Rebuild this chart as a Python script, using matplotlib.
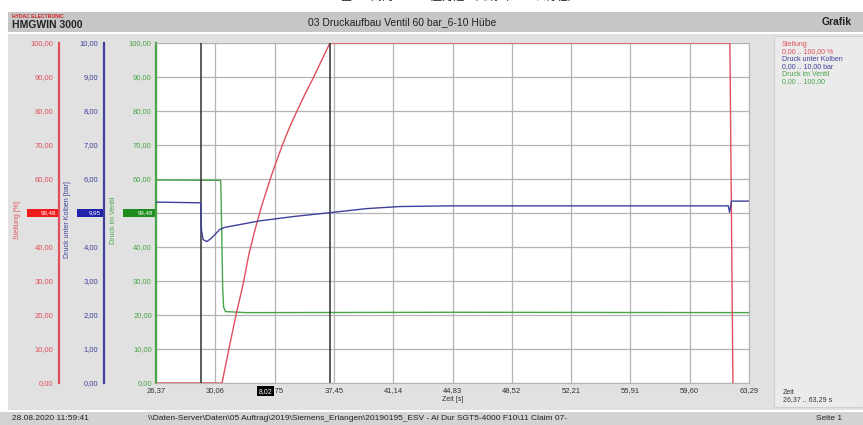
#HMGWIN 3000 recording - Druckaufbau Ventil 60 bar
#three channels on one time axis, each with its own y scale

import matplotlib
matplotlib.use("Agg")
import matplotlib.pyplot as plt
from matplotlib.patches import Rectangle
from matplotlib.ticker import FuncFormatter
import matplotlib.transforms as mtransforms

plt.rcParams['font.family'] = ['Liberation Sans', 'Noto Sans CJK SC', 'DejaVu Sans']

# Stellung [%]
t_stellung = [26.37, 30.48, 30.91, 31.35, 31.79, 32.16, 32.53, 32.91, 33.28, 33.59, 33.97,
              34.28, 34.71, 35.15, 35.65, 36.14, 36.64, 37.20, 62.10, 62.29]
stellung = [0, 0, 10, 20, 29, 38, 45, 51.5, 57, 61.5, 66.5,
            70.5, 75.5, 80, 85, 89.5, 94.5, 100, 100, 0]

# Druck unter Kolben [bar]
t_kolben = [26.37, 29.15, 29.20, 29.30, 29.53, 29.80, 30.10, 30.35, 30.67, 32.85, 35.00,
            37.20, 39.50, 41.56, 44.70, 50.00, 56.00, 62.00, 62.08, 62.20, 63.29]
druck_kolben = [5.32, 5.30, 4.50, 4.22, 4.16, 4.25, 4.40, 4.52, 4.58, 4.77, 4.90,
                5.01, 5.13, 5.19, 5.21, 5.21, 5.21, 5.21, 5.02, 5.35, 5.35]

# Druck im Ventil
t_ventil = [26.37, 30.40, 30.46, 30.52, 30.58, 30.70, 32.00, 45.00, 63.29]
druck_ventil = [59.7, 59.6, 45.0, 28.0, 22.3, 21.0, 20.7, 20.8, 20.7]

x_ticks = [26.37, 30.06, 33.75, 37.45, 41.14, 44.83, 48.52, 52.21, 55.91, 59.60, 63.29]
cursor_1 = 29.18
cursor_2 = 37.20
cursor_text = "8,02"

RED = "#e0505c"
BLUE = "#40409c"
GREEN = "#48a448"

W, H = 863, 425
PT = 72 / 100   # points per pixel


def fx(x):
    return x / W


def fy(y):
    return 1 - y / H


def box(x0, y0, x1, y1, color, z=-5, **kw):
    fig.add_artist(Rectangle((fx(x0), fy(y1)), fx(x1) - fx(x0), fy(y0) - fy(y1),
                             transform=fig.transFigure, facecolor=color, zorder=z, **kw))


def comma(v, pos=None):
    return f"{v:.2f}".replace(".", ",")


fig = plt.figure(figsize=(W / 100, H / 100), dpi=100)
fig.patch.set_facecolor("white")

# frame of the printout
box(8, 12, 863, 32, "#c6c6c6", edgecolor="none")
box(8, 34, 863, 410, "#e1e1e1", edgecolor="none")
box(774, 36, 863, 407, "#ebebeb", edgecolor="#cfcfcf", linewidth=0.8)
box(0, 412, 863, 425, "#d3d3d3", edgecolor="none")

fig.text(fx(460), fy(-2.5), "图 03 阀门 60 bar 压力建立曲线（6-10 次行程）", fontsize=8,
         ha="center", va="center", color="#222222")
fig.text(fx(12), fy(16), "HYDAC ELECTRONIC", fontsize=3.6, color="#cc2222",
         fontweight="bold", va="center")
fig.text(fx(12), fy(25), "HMGWIN 3000", fontsize=7.5, color="#222222",
         fontweight="bold", va="center")
fig.text(fx(308), fy(22), "03 Druckaufbau Ventil 60 bar_6-10 Hübe", fontsize=7.5,
         color="#222222", va="center")
fig.text(fx(822), fy(22), "Grafik", fontsize=7.5, color="#222222",
         fontweight="bold", va="center")

# legend panel on the right
legend_rows = [("Stellung", RED), ("0,00 .. 100,00 %", RED),
               ("Druck unter Kolben", BLUE), ("0,00 .. 10,00 bar", BLUE),
               ("Druck im Ventil", GREEN), ("0,00 .. 100,00", GREEN)]
for i, (txt, col) in enumerate(legend_rows):
    fig.text(fx(782), fy(44 + i * 7.6), txt, fontsize=5, color=col, va="center")
fig.text(fx(783), fy(392), "Zeit", fontsize=5, color="#333333", va="center")
fig.text(fx(783), fy(400), "26,37 .. 63,29 s", fontsize=5, color="#333333", va="center")

# footer
fig.text(fx(12), fy(419), "28.08.2020 11:59:41", fontsize=6, color="#222222", va="center")
fig.text(fx(148), fy(419),
         "\\\\Daten-Server\\Daten\\05 Auftrag\\2019\\Siemens_Erlangen\\20190195_ESV - Al Dur SGT5-4000 F10\\11 Claim 07-",
         fontsize=6, color="#222222", va="center")
fig.text(fx(816), fy(419), "Seite 1", fontsize=6, color="#222222", va="center")

# main plot
ax = fig.add_axes([fx(156), fy(383), fx(749) - fx(156), fy(43) - fy(383)])
ax.set_facecolor("white")
ax.set_xlim(x_ticks[0], x_ticks[-1])
ax.set_ylim(0, 100)
ax.set_yticks(range(0, 101, 10))
ax.set_xticks(x_ticks)
ax.xaxis.set_major_formatter(FuncFormatter(comma))
ax.yaxis.set_major_formatter(FuncFormatter(comma))
ax.grid(True, color="#b4b4b4", linewidth=0.9)
ax.set_axisbelow(True)
ax.tick_params(axis="both", length=0, labelsize=5.5, pad=3)
ax.tick_params(axis="y", labelcolor=GREEN)
ax.tick_params(axis="x", labelcolor="#333333")
for side in ["top", "right", "bottom"]:
    ax.spines[side].set_color("#b4b4b4")
ax.spines["left"].set_color(GREEN)
ax.spines["left"].set_linewidth(1.6)
ax.set_xlabel("Zeit [s]", fontsize=5, color="#333333", labelpad=1)
ax.set_ylabel("Druck im Ventil", fontsize=5, color=GREEN)
ax.yaxis.set_label_coords(fx(117), fy(220), transform=fig.transFigure)

ax_red = ax.twinx()
ax_blue = ax.twinx()
for twin, col, offset, top in [(ax_red, RED, 97, 100), (ax_blue, BLUE, 52, 10)]:
    twin.set_ylim(0, top)
    twin.set_yticks([top * k / 10 for k in range(11)])
    twin.yaxis.set_major_formatter(FuncFormatter(comma))
    twin.yaxis.set_ticks_position("left")
    twin.yaxis.set_label_position("left")
    for side in ["top", "right", "bottom"]:
        twin.spines[side].set_visible(False)
    twin.spines["left"].set_position(("outward", offset * PT))
    twin.spines["left"].set_color(col)
    twin.spines["left"].set_linewidth(1.6)
    twin.tick_params(axis="y", length=0, labelsize=5.5, pad=4, labelcolor=col)
ax_red.set_ylabel("Stellung [%]", fontsize=5, color=RED)
ax_red.yaxis.set_label_coords(fx(21), fy(220), transform=fig.transFigure)
ax_blue.set_ylabel("Druck unter Kolben [bar]", fontsize=5, color=BLUE)
ax_blue.yaxis.set_label_coords(fx(71), fy(220), transform=fig.transFigure)

ax.plot(t_ventil, druck_ventil, color=GREEN, linewidth=1)
ax_blue.plot(t_kolben, druck_kolben, color=BLUE, linewidth=1)
ax_red.plot(t_stellung, stellung, color=RED, linewidth=1)

# cursors
for c in [cursor_1, cursor_2]:
    ax_red.axvline(c, color="#303030", linewidth=1.1)
trans = mtransforms.blended_transform_factory(ax.transData, ax.transAxes)
ax.text((cursor_1 + cursor_2) / 2, -0.024, cursor_text, transform=trans, fontsize=5,
        color="white", ha="center", va="center", zorder=10,
        bbox=dict(boxstyle="square,pad=0.25", facecolor="black", edgecolor="none"))

# current value boxes on each axis
for x0, x1, col, txt in [(27, 58, "#ee1c1c", "99,48"), (77, 103, "#2222aa", "9,95"),
                         (123, 155, "#1e8c1e", "99,48")]:
    box(x0, 209, x1, 217, col, z=5, edgecolor="none")
    fig.text(fx(x1 - 2), fy(213), txt, fontsize=4.5, color="white", ha="right",
             va="center", zorder=6)

fig.savefig("out.png", dpi=100)
